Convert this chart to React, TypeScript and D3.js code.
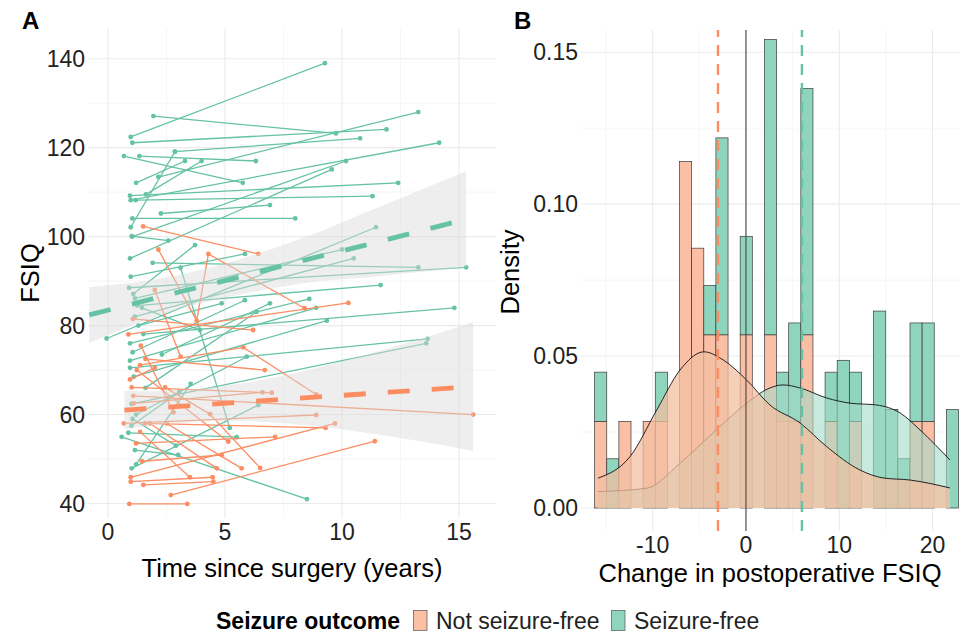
import React, { useEffect } from 'react';
import * as d3 from 'd3';

type Pt = [number, number];

// ---------- Panel A: FSIQ over time, one line per patient ----------
const seizureFree: Pt[][] = [
  [[0.97, 122.4], [9.27, 139.0]],
  [[1.94, 127.1], [9.74, 123.2]],
  [[1.04, 121.1], [11.9, 124.1]],
  [[2.15, 113.4], [13.26, 128.0]],
  [[2.86, 119.1], [10.77, 122.1]],
  [[0.97, 102.1], [2.86, 119.1]],
  [[0.68, 118.1], [5.76, 112.1]],
  [[1.34, 118.1], [6.32, 117.0]],
  [[1.2, 112.1], [3.29, 117.0]],
  [[0.94, 109.2], [12.4, 112.1]],
  [[1.18, 108.2], [11.3, 109.1]],
  [[0.97, 108.2], [14.15, 121.1]],
  [[1.04, 100.0], [10.17, 117.0]],
  [[2.26, 105.2], [6.92, 107.1]],
  [[1.04, 104.1], [8.0, 104.1]],
  [[0.94, 95.1], [9.56, 115.1]],
  [[1.62, 109.5], [4.0, 117.0]],
  [[-0.06, 77.1], [11.45, 102.1]],
  [[1.01, 100.1], [2.58, 99.1]],
  [[1.51, 78.1], [14.8, 84.0]],
  [[1.08, 87.1], [3.72, 98.1]],
  [[0.97, 91.0], [5.85, 96.1]],
  [[1.15, 86.1], [10.0, 97.1]],
  [[1.15, 82.0], [10.5, 95.1]],
  [[1.91, 94.1], [13.26, 93.1]],
  [[0.9, 88.5], [15.3, 93.1]],
  [[1.25, 84.5], [11.65, 89.1]],
  [[0.94, 76.0], [8.6, 86.0]],
  [[0.94, 72.1], [8.9, 84.0]],
  [[1.1, 68.5], [9.35, 81.1]],
  [[0.94, 70.5], [13.66, 77.0]],
  [[1.0, 62.4], [13.6, 76.0]],
  [[1.45, 84.0], [3.93, 79.0]],
  [[1.05, 74.0], [5.85, 85.7]],
  [[1.6, 66.0], [6.35, 83.1]],
  [[1.3, 80.0], [4.86, 85.0]],
  [[2.3, 73.5], [6.92, 85.0]],
  [[1.2, 60.0], [5.93, 73.0]],
  [[0.58, 55.0], [8.5, 41.0]],
  [[0.87, 55.9], [5.5, 54.9]],
  [[1.15, 52.0], [3.0, 50.9]],
  [[1.01, 47.9], [6.42, 62.1]],
  [[1.2, 48.8], [3.53, 66.9]],
  [[3.1, 93.0], [5.2, 57.0]],
  [[1.0, 57.5], [3.05, 65.1]],
  [[1.05, 59.0], [2.9, 53.0]],
];

const notSeizureFree: Pt[][] = [
  [[1.5, 102.3], [6.42, 96.1]],
  [[2.15, 97.1], [3.79, 81.1], [4.29, 96.1], [8.4, 83.9]],
  [[0.87, 78.0], [10.27, 85.1]],
  [[1.37, 71.1], [5.78, 75.1], [8.9, 64.5]],
  [[1.08, 64.2], [15.6, 60.0]],
  [[1.01, 66.1], [7.0, 64.9]],
  [[2.44, 66.1], [4.36, 60.1]],
  [[0.68, 58.0], [8.9, 59.9]],
  [[0.97, 45.9], [9.7, 58.0]],
  [[2.68, 41.9], [11.4, 54.0]],
  [[1.37, 56.1], [3.5, 45.9]],
  [[0.91, 39.9], [3.39, 39.9]],
  [[1.51, 44.2], [4.5, 44.9]],
  [[0.97, 44.9], [4.47, 45.9]],
  [[1.79, 58.0], [4.65, 47.9]],
  [[2.51, 58.0], [5.71, 47.9]],
  [[1.45, 49.5], [4.86, 50.9]],
  [[1.2, 53.5], [7.14, 55.0]],
  [[1.23, 70.0], [5.14, 53.9]],
  [[1.58, 58.0], [9.3, 57.0]],
  [[0.94, 67.9], [2.0, 70.5]],
  [[1.1, 62.5], [6.6, 65.0]],
  [[1.4, 75.5], [2.8, 60.5]],
  [[2.0, 88.0], [3.1, 73.0]],
  [[1.6, 72.5], [6.7, 70.0]],
  [[4.36, 60.1], [6.5, 48.0]],
  [[1.06, 81.5], [6.2, 79.0]],
];

// linear fits with confidence band
const sfFitTime = [-0.8, 1, 3, 5, 7, 9, 11, 13, 15.3];
const sfFitMid = [82.4, 84.8, 87.5, 90.1, 92.8, 95.5, 98.1, 100.8, 103.9];
const sfFitLow = [76.1, 80.0, 83.7, 86.3, 88.4, 90.0, 90.8, 91.9, 93.1];
const sfFitHigh = [88.7, 89.6, 91.3, 93.9, 97.2, 101.0, 105.4, 109.7, 114.7];

const nsfFitTime = [0.7, 2, 4, 6, 8, 10, 12, 14, 15.6];
const nsfFitMid = [61.0, 61.46, 62.17, 62.89, 63.6, 64.31, 65.02, 65.73, 66.3];
const nsfFitLow = [56.7, 57.66, 58.47, 58.59, 57.9, 56.71, 55.12, 53.43, 51.8];
const nsfFitHigh = [65.3, 65.26, 65.87, 67.19, 69.3, 71.91, 74.92, 78.03, 80.8];

// ---------- Panel B: change in FSIQ, stacked density histogram ----------
const binStart = -16.22;
const binWidth = 1.3;
const nsfBinDensity = [0.0285, 0, 0.0285, 0, 0.0285, 0.0285, 0, 0.114, 0.0855, 0.057, 0.057, 0, 0.057, 0, 0.057,
  0.0285, 0.0285, 0.057, 0, 0.0285, 0, 0.0285, 0, 0, 0, 0, 0.0285, 0.0285, 0, 0];
const sfBinDensity = [0.0162, 0.0162, 0, 0, 0, 0.0162, 0, 0, 0, 0.0162, 0.0648, 0, 0.0324, 0, 0.0972,
  0.0162, 0.0324, 0.081, 0, 0.0162, 0.0486, 0.0162, 0, 0.0648, 0.0324, 0.0162, 0.0324, 0.0324, 0, 0.0324];

const nsfDensX = [-15.86, -12.43, -9.57, -7.07, -4.5, -2.43, 0.08, 2.57, 5.79, 8.65, 12.22, 14.68, 17.58, 21.86];
const nsfDensY = [0.0098, 0.0169, 0.0322, 0.0454, 0.0514, 0.0487, 0.0421, 0.0339, 0.028, 0.0202, 0.0125, 0.0099, 0.0092, 0.0066];
const sfDensX = [-15.86, -10.64, -7.07, -3.54, 0.08, 2.57, 3.97, 5.79, 8.65, 11.15, 14.0, 16.51, 18.65, 21.86];
const sfDensY = [0.0054, 0.0065, 0.0147, 0.0247, 0.0345, 0.0395, 0.0405, 0.0395, 0.0362, 0.0345, 0.0339, 0.0313, 0.0257, 0.0158];

const nsfMean = -3;
const sfMean = 6;

const xTicksA = [0, 5, 10, 15];
const yTicksA = [40, 60, 80, 100, 120, 140];
const xTicksB = [-10, 0, 10, 20];
const yTicksB = [0, 0.05, 0.1, 0.15];

const legendLabels = ['Not seizure-free', 'Seizure-free'];

const GREEN = '#66C2A5';
const ORANGE = '#FC8D62';
const GREEN_BAR = '#8FD4BD';
const ORANGE_BAR = '#FBBFA6';
const FONT = '"Liberation Sans", Arial, sans-serif';

const App = () => {
  useEffect(() => {
    document.body.style.margin = '0';
  }, []);

  const W = 964, H = 634;

  // panel A
  const xA = d3.scaleLinear().domain([-0.855, 16.58]).range([88, 496]);
  const yA = d3.scaleLinear().domain([36.74, 146.9]).range([518, 28]);
  const lineA = d3.line<Pt>().x(d => xA(d[0])).y(d => yA(d[1]));

  const band = (t: number[], lo: number[], hi: number[]) =>
    d3.area<number>()
      .x((_, i) => xA(t[i]))
      .y0((_, i) => yA(lo[i]))
      .y1((_, i) => yA(hi[i]))(t) || '';

  // panel B
  const xB = d3.scaleLinear().domain([-17.68, 22.94]).range([581, 960]);
  const yB = d3.scaleLinear().domain([-0.00757, 0.1573]).range([531, 30]);
  const densArea = (xs: number[], ys: number[]) =>
    d3.area<number>().x((_, i) => xB(xs[i])).y0(yB(0)).y1((_, i) => yB(ys[i])).curve(d3.curveMonotoneX)(xs) || '';
  const densLine = (xs: number[], ys: number[]) =>
    d3.line<number>().x((_, i) => xB(xs[i])).y((_, i) => yB(ys[i])).curve(d3.curveMonotoneX)(xs) || '';

  const gridMajor = '#EBEBEB';
  const gridMinor = '#F4F4F4';

  const xMinorA = [2.5, 7.5, 12.5];
  const yMinorA = [50, 70, 90, 110, 130];
  const xMinorB = [-15, -5, 5, 15];
  const yMinorB = [0.025, 0.075, 0.125];

  const tickFont = 23;
  const titleFont = 25.5;

  return (
    <svg width={W} height={H} style={{ position: 'absolute', left: 0, top: 0, background: '#fff' }}
      fontFamily={FONT}>
      {/* ---- Panel A ---- */}
      <g>
        {xMinorA.map(v => <line key={'xma' + v} x1={xA(v)} x2={xA(v)} y1={28} y2={518} stroke={gridMinor} strokeWidth={0.8} />)}
        {yMinorA.map(v => <line key={'yma' + v} x1={88} x2={496} y1={yA(v)} y2={yA(v)} stroke={gridMinor} strokeWidth={0.8} />)}
        {xTicksA.map(v => <line key={'xa' + v} x1={xA(v)} x2={xA(v)} y1={28} y2={518} stroke={gridMajor} strokeWidth={1.1} />)}
        {yTicksA.map(v => <line key={'ya' + v} x1={88} x2={496} y1={yA(v)} y2={yA(v)} stroke={gridMajor} strokeWidth={1.1} />)}

        {seizureFree.map((p, i) => (
          <g key={'sf' + i}>
            <path d={lineA(p) || ''} fill="none" stroke={GREEN} strokeWidth={1.3} />
            {p.map((d, j) => <circle key={j} cx={xA(d[0])} cy={yA(d[1])} r={2.4} fill={GREEN} />)}
          </g>
        ))}
        {notSeizureFree.map((p, i) => (
          <g key={'nsf' + i}>
            <path d={lineA(p) || ''} fill="none" stroke={ORANGE} strokeWidth={1.3} />
            {p.map((d, j) => <circle key={j} cx={xA(d[0])} cy={yA(d[1])} r={2.4} fill={ORANGE} />)}
          </g>
        ))}

        <path d={band(sfFitTime, sfFitLow, sfFitHigh)} fill="#D9D9D9" fillOpacity={0.45} />
        <path d={band(nsfFitTime, nsfFitLow, nsfFitHigh)} fill="#D9D9D9" fillOpacity={0.45} />
        <path d={lineA(sfFitTime.map((t, i) => [t, sfFitMid[i]] as Pt)) || ''} fill="none" stroke={GREEN}
          strokeWidth={4.8} strokeDasharray="22 22" />
        <path d={lineA(nsfFitTime.map((t, i) => [t, nsfFitMid[i]] as Pt)) || ''} fill="none" stroke={ORANGE}
          strokeWidth={4.8} strokeDasharray="22 22" />

        {yTicksA.map(v => (
          <text key={'yla' + v} x={85} y={yA(v)} dy="0.35em" textAnchor="end" fontSize={tickFont} fill="#222">{v}</text>
        ))}
        {xTicksA.map(v => (
          <text key={'xla' + v} x={xA(v)} y={540} textAnchor="middle" fontSize={tickFont} fill="#222">{v}</text>
        ))}
        <text x={292} y={577} textAnchor="middle" fontSize={titleFont} fill="#000">Time since surgery (years)</text>
        <text transform={`translate(39,273) rotate(-90)`} textAnchor="middle" fontSize={titleFont} fill="#000">FSIQ</text>
        <text x={22} y={29} fontSize={24} fontWeight="bold" fill="#000">A</text>
      </g>

      {/* ---- Panel B ---- */}
      <g>
        {xMinorB.map(v => <line key={'xmb' + v} x1={xB(v)} x2={xB(v)} y1={30} y2={531} stroke={gridMinor} strokeWidth={0.8} />)}
        {yMinorB.map(v => <line key={'ymb' + v} x1={581} x2={960} y1={yB(v)} y2={yB(v)} stroke={gridMinor} strokeWidth={0.8} />)}
        {xTicksB.map(v => <line key={'xb' + v} x1={xB(v)} x2={xB(v)} y1={30} y2={531} stroke={gridMajor} strokeWidth={1.1} />)}
        {yTicksB.map(v => <line key={'yb' + v} x1={581} x2={960} y1={yB(v)} y2={yB(v)} stroke={gridMajor} strokeWidth={1.1} />)}

        {nsfBinDensity.map((d, i) => {
          const x0 = xB(binStart + i * binWidth);
          const x1 = xB(binStart + (i + 1) * binWidth);
          const g = sfBinDensity[i];
          return (
            <g key={'bin' + i}>
              {d > 0 && <rect x={x0} width={x1 - x0} y={yB(d)} height={yB(0) - yB(d)} fill={ORANGE_BAR}
                stroke="#3a3a3a" strokeWidth={0.7} />}
              {g > 0 && <rect x={x0} width={x1 - x0} y={yB(d + g)} height={yB(d) - yB(d + g)} fill={GREEN_BAR}
                stroke="#3a3a3a" strokeWidth={0.7} />}
            </g>
          );
        })}

        <path d={densArea(sfDensX, sfDensY)} fill="#A3DBC7" fillOpacity={0.6} />
        <path d={densLine(sfDensX, sfDensY)} fill="none" stroke="#111" strokeWidth={0.9} />
        <path d={densArea(nsfDensX, nsfDensY)} fill="#F3BFA2" fillOpacity={0.75} />
        <path d={densLine(nsfDensX, nsfDensY)} fill="none" stroke="#111" strokeWidth={0.9} />

        <line x1={xB(0)} x2={xB(0)} y1={30} y2={531} stroke="#444" strokeWidth={1.1} />
        <line x1={xB(nsfMean)} x2={xB(nsfMean)} y1={531} y2={30} stroke={ORANGE} strokeWidth={2.4} strokeDasharray="11 8" />
        <line x1={xB(sfMean)} x2={xB(sfMean)} y1={531} y2={30} stroke={GREEN} strokeWidth={2.4} strokeDasharray="11 8" />

        {yTicksB.map(v => (
          <text key={'ylb' + v} x={578} y={yB(v)} dy="0.35em" textAnchor="end" fontSize={tickFont} fill="#222">
            {d3.format('.2f')(v)}
          </text>
        ))}
        {xTicksB.map(v => (
          <text key={'xlb' + v} x={xB(v)} y={553} textAnchor="middle" fontSize={tickFont} fill="#222">{v}</text>
        ))}
        <text x={770} y={582} textAnchor="middle" fontSize={titleFont} fill="#000">Change in postoperative FSIQ</text>
        <text transform={`translate(519,272) rotate(-90)`} textAnchor="middle" fontSize={titleFont} fill="#000">Density</text>
        <text x={514} y={29} fontSize={24} fontWeight="bold" fill="#000">B</text>
      </g>

      {/* ---- Legend ---- */}
      <g>
        <text x={216} y={629} fontSize={23} fontWeight="bold" fill="#000">Seizure outcome</text>
        <rect x={413.5} y={610.5} width={13.5} height={20} fill={ORANGE_BAR} stroke="#555" strokeWidth={0.7} />
        <text x={436} y={629} fontSize={23} fill="#222">{legendLabels[0]}</text>
        <rect x={611.5} y={610.5} width={13.5} height={20} fill={GREEN_BAR} stroke="#555" strokeWidth={0.7} />
        <text x={634} y={629} fontSize={23} fill="#222">{legendLabels[1]}</text>
      </g>
    </svg>
  );
};

export default App;
